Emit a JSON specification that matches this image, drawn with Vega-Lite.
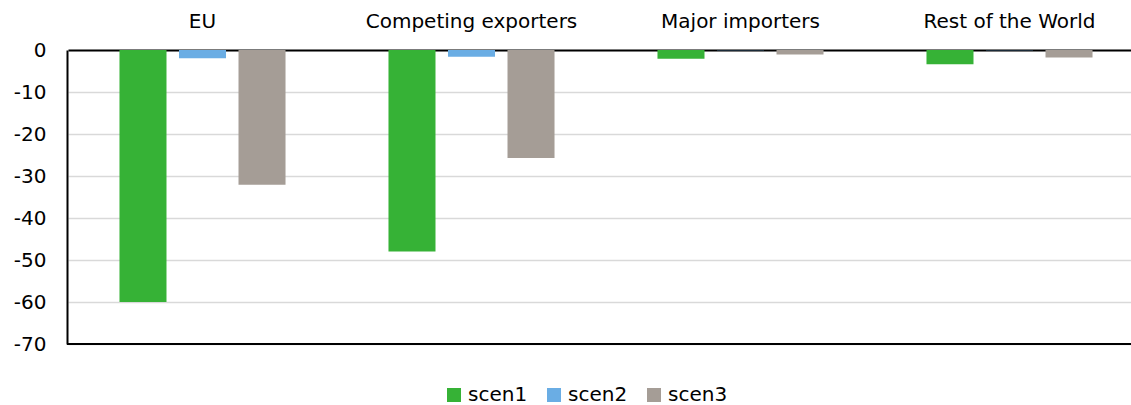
{
  "$schema": "https://vega.github.io/schema/vega-lite/v6.json",
  "width": 1064,
  "height": 294,
  "autosize": {"type": "none"},
  "padding": {"left": 67, "top": 50, "right": 0, "bottom": 61},
  "config": {
    "font": "DejaVu Sans",
    "view": {"stroke": null},
    "axis": {"labelFont": "DejaVu Sans", "labelFontSize": 20, "labelColor": "#000000"}
  },
  "data": {
    "values": [
      {"region": "EU", "scenario": "scen1", "value": -60.0},
      {"region": "EU", "scenario": "scen2", "value": -1.95},
      {"region": "EU", "scenario": "scen3", "value": -32.1},
      {"region": "Competing exporters", "scenario": "scen1", "value": -48.0},
      {"region": "Competing exporters", "scenario": "scen2", "value": -1.6},
      {"region": "Competing exporters", "scenario": "scen3", "value": -25.7},
      {"region": "Major importers", "scenario": "scen1", "value": -2.1},
      {"region": "Major importers", "scenario": "scen2", "value": -0.05},
      {"region": "Major importers", "scenario": "scen3", "value": -1.05},
      {"region": "Rest of the World", "scenario": "scen1", "value": -3.4},
      {"region": "Rest of the World", "scenario": "scen2", "value": -0.05},
      {"region": "Rest of the World", "scenario": "scen3", "value": -1.8}
    ]
  },
  "layer": [
    {
      "mark": {"type": "bar"},
      "encoding": {
        "x": {
          "field": "region",
          "type": "nominal",
          "sort": ["EU", "Competing exporters", "Major importers", "Rest of the World"],
          "scale": {"paddingInner": 0, "paddingOuter": 0, "range": [1, 1077]},
          "axis": {
            "orient": "top",
            "title": null,
            "labelAngle": 0,
            "labelLimit": 0,
            "ticks": false,
            "domainColor": "#000000",
            "domainWidth": 2,
            "labelPadding": 19
          }
        },
        "xOffset": {
          "field": "scenario",
          "type": "nominal",
          "scale": {"paddingInner": 0.21, "paddingOuter": 0.865}
        },
        "y": {
          "field": "value",
          "type": "quantitative",
          "scale": {"domain": [-70, 0], "nice": false},
          "axis": {
            "title": null,
            "values": [0, -10, -20, -30, -40, -50, -60, -70],
            "labelExpr": "replace(datum.label, '−', '-')",
            "ticks": false,
            "domainColor": "#000000",
            "domainWidth": 2,
            "gridColor": "#d9d9d9",
            "gridWidth": 1.5,
            "labelPadding": 21
          }
        },
        "color": {
          "field": "scenario",
          "type": "nominal",
          "scale": {"domain": ["scen1", "scen2", "scen3"], "range": ["#36B236", "#6AADE4", "#A59D96"]},
          "legend": {
            "title": null,
            "orient": "none",
            "direction": "horizontal",
            "legendX": 377,
            "legendY": 335,
            "symbolType": "square",
            "symbolSize": 196,
            "symbolStrokeWidth": 0,
            "labelFontSize": 20,
            "labelColor": "#000000",
            "labelOffset": 4,
            "columnPadding": 16
          }
        }
      }
    },
    {
      "mark": {"type": "rule", "color": "#000000", "strokeWidth": 2},
      "encoding": {"y": {"datum": -70}}
    }
  ]
}
